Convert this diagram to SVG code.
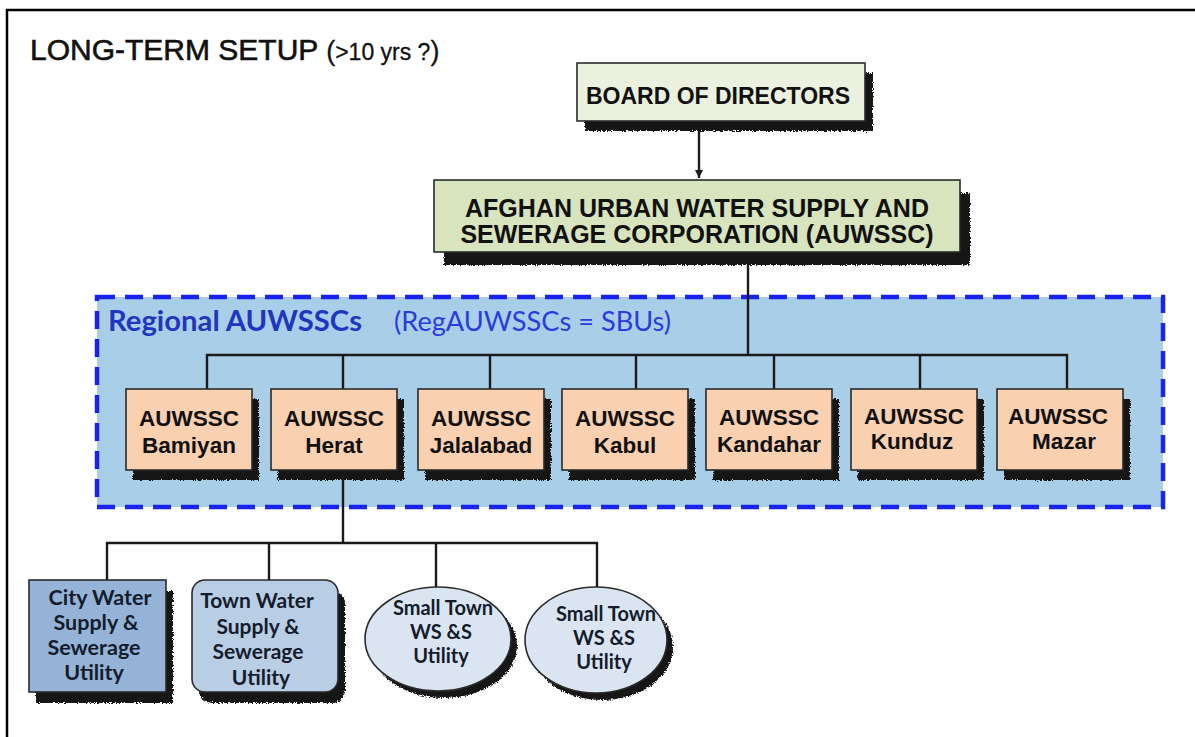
<svg xmlns="http://www.w3.org/2000/svg" width="1195" height="737" viewBox="0 0 1195 737">
<style>
.ar{font-family:"Liberation Sans",Arial,sans-serif;fill:#111;}
.b{font-weight:bold;}
.cal{font-family:Lato,"Open Sans",sans-serif;font-weight:bold;fill:#141c2c;}
.box{stroke:#2a2a2a;stroke-width:1.6;}
.sh{fill:#151515;filter:url(#rough);}
.con{stroke:#1a1a1a;stroke-width:2.4;fill:none;}
</style>
<defs>
<filter id="rough" x="-5%" y="-10%" width="110%" height="125%">
<feTurbulence type="fractalNoise" baseFrequency="0.8" numOctaves="1" seed="3" result="n"/>
<feDisplacementMap in="SourceGraphic" in2="n" scale="5" xChannelSelector="R" yChannelSelector="G"/>
</filter>
<marker id="arr" markerWidth="10" markerHeight="10" refX="8" refY="5" orient="auto" markerUnits="userSpaceOnUse">
<path d="M0,1 L8,5 L0,9 Z" fill="#1a1a1a"/>
</marker>
</defs>
<rect width="1195" height="737" fill="#fff"/>
<path d="M7,737 V10 H1195" fill="none" stroke="#000" stroke-width="2.5"/>
<text class="ar" x="30" y="60" font-size="30" stroke="#111" stroke-width="0.6">LONG-TERM SETUP <tspan font-size="27" stroke-width="0.3">(</tspan><tspan font-size="23" stroke-width="0.3">&gt;10 yrs ?</tspan><tspan font-size="27" stroke-width="0.3">)</tspan></text>

<g id="region">
<rect x="97" y="297" width="1066" height="210" fill="#a8cfe7" stroke="#1a22f0" stroke-width="4.5" stroke-dasharray="18 10"/>
<text x="108" y="331" font-family="Lato,'Open Sans',sans-serif" font-weight="bold" font-size="28" fill="#2136c0" textLength="254" lengthAdjust="spacingAndGlyphs">Regional AUWSSCs</text>
<text x="394" y="331" font-family="Lato,'Open Sans',sans-serif" font-size="27" fill="#2a3be0" textLength="277" lengthAdjust="spacingAndGlyphs">(RegAUWSSCs = SBUs)</text>
</g>

<g id="connectors">
<line class="con" x1="699" y1="121" x2="699" y2="178" marker-end="url(#arr)"/>
<line class="con" x1="748" y1="252" x2="748" y2="355"/>
<polyline class="con" points="207,389 207,355 1067,355 1067,389"/>
<line class="con" x1="343" y1="355" x2="343" y2="389"/>
<line class="con" x1="490" y1="355" x2="490" y2="389"/>
<line class="con" x1="636" y1="355" x2="636" y2="389"/>
<line class="con" x1="774" y1="355" x2="774" y2="389"/>
<line class="con" x1="920" y1="355" x2="920" y2="389"/>
<line class="con" x1="343" y1="470" x2="343" y2="543"/>
<polyline class="con" points="107,580 107,543 597,543 597,587"/>
<line class="con" x1="269" y1="543" x2="269" y2="580"/>
<line class="con" x1="436" y1="543" x2="436" y2="587"/>
</g>

<g id="board">
<rect class="sh" x="585" y="73" width="288" height="58"/>
<rect class="box" x="577" y="63" width="288" height="58" fill="#ebf1de"/>
<text class="ar b" x="718" y="104" font-size="23" text-anchor="middle">BOARD OF DIRECTORS</text>
</g>

<g id="auwssc">
<rect class="sh" x="444" y="193" width="526" height="72"/>
<rect class="box" x="434" y="180" width="526" height="72" fill="#d7e4bd"/>
<text class="ar b" x="697" y="217" font-size="25" text-anchor="middle">AFGHAN URBAN WATER SUPPLY AND</text>
<text class="ar b" x="697" y="243" font-size="25" text-anchor="middle">SEWERAGE CORPORATION (AUWSSC)</text>
</g>

<g id="bamiyan">
<rect class="sh" x="133" y="399" width="126" height="81"/>
<rect class="box" x="126" y="389" width="126" height="81" fill="#f9d0b0"/>
<text class="ar b" x="189" y="426" font-size="22.5" text-anchor="middle">AUWSSC</text>
<text class="ar b" x="189" y="453" font-size="22.5" text-anchor="middle">Bamiyan</text>
</g>
<g id="herat">
<rect class="sh" x="278" y="399" width="126" height="81"/>
<rect class="box" x="271" y="389" width="126" height="81" fill="#f9d0b0"/>
<text class="ar b" x="334" y="426" font-size="22.5" text-anchor="middle">AUWSSC</text>
<text class="ar b" x="334" y="453" font-size="22.5" text-anchor="middle">Herat</text>
</g>
<g id="jalalabad">
<rect class="sh" x="425" y="399" width="126" height="81"/>
<rect class="box" x="418" y="389" width="126" height="81" fill="#f9d0b0"/>
<text class="ar b" x="481" y="426" font-size="22.5" text-anchor="middle">AUWSSC</text>
<text class="ar b" x="481" y="453" font-size="22.5" text-anchor="middle">Jalalabad</text>
</g>
<g id="kabul">
<rect class="sh" x="569" y="399" width="126" height="81"/>
<rect class="box" x="562" y="389" width="126" height="81" fill="#f9d0b0"/>
<text class="ar b" x="625" y="426" font-size="22.5" text-anchor="middle">AUWSSC</text>
<text class="ar b" x="625" y="453" font-size="22.5" text-anchor="middle">Kabul</text>
</g>
<g id="kandahar">
<rect class="sh" x="713" y="399" width="126" height="81"/>
<rect class="box" x="706" y="389" width="126" height="81" fill="#f9d0b0"/>
<text class="ar b" x="769" y="425" font-size="22.5" text-anchor="middle">AUWSSC</text>
<text class="ar b" x="769" y="452" font-size="22.5" text-anchor="middle">Kandahar</text>
</g>
<g id="kunduz">
<rect class="sh" x="858" y="399" width="126" height="81"/>
<rect class="box" x="851" y="389" width="126" height="81" fill="#f9d0b0"/>
<text class="ar b" x="914" y="424" font-size="22.5" text-anchor="middle">AUWSSC</text>
<text class="ar b" x="912" y="449" font-size="22.5" text-anchor="middle">Kunduz</text>
</g>
<g id="mazar">
<rect class="sh" x="1004" y="399" width="126" height="81"/>
<rect class="box" x="997" y="389" width="126" height="81" fill="#f9d0b0"/>
<text class="ar b" x="1058" y="424" font-size="22.5" text-anchor="middle">AUWSSC</text>
<text class="ar b" x="1064" y="449" font-size="22.5" text-anchor="middle">Mazar</text>
</g>

<g id="city">
<rect class="sh" x="36" y="591" width="137" height="112"/>
<rect class="box" x="29" y="580" width="137" height="112" fill="#95b3d7"/>
<text class="cal" x="100" y="605" font-size="21.5" text-anchor="middle">City Water</text>
<text class="cal" x="96" y="630" font-size="21.5" text-anchor="middle">Supply &amp;</text>
<text class="cal" x="94" y="655" font-size="21.5" text-anchor="middle">Sewerage</text>
<text class="cal" x="94" y="680" font-size="21.5" text-anchor="middle">Utility</text>
</g>
<g id="town">
<rect class="sh" x="199" y="591" width="146" height="112" rx="13"/>
<rect class="box" x="192" y="580" width="146" height="112" rx="13" fill="#b9cde5"/>
<text class="cal" x="257" y="608" font-size="21" text-anchor="middle">Town Water</text>
<text class="cal" x="258" y="634" font-size="21" text-anchor="middle">Supply &amp;</text>
<text class="cal" x="258" y="659" font-size="21" text-anchor="middle">Sewerage</text>
<text class="cal" x="261" y="685" font-size="21" text-anchor="middle">Utility</text>
</g>
<g id="small1">
<ellipse class="sh" cx="444" cy="646" rx="73" ry="52"/>
<ellipse class="box" cx="438" cy="639" rx="73" ry="52" fill="#dbe5f1"/>
<text class="cal" x="443" y="615" font-size="20" text-anchor="middle">Small Town</text>
<text class="cal" x="441" y="639" font-size="20" text-anchor="middle">WS &amp;S</text>
<text class="cal" x="441" y="663" font-size="20" text-anchor="middle">Utility</text>
</g>
<g id="small2">
<ellipse class="sh" cx="602" cy="647" rx="71" ry="53"/>
<ellipse class="box" cx="596" cy="640" rx="71" ry="53" fill="#dbe5f1"/>
<text class="cal" x="606" y="621" font-size="20" text-anchor="middle">Small Town</text>
<text class="cal" x="604" y="645" font-size="20" text-anchor="middle">WS &amp;S</text>
<text class="cal" x="604" y="669" font-size="20" text-anchor="middle">Utility</text>
</g>
</svg>
